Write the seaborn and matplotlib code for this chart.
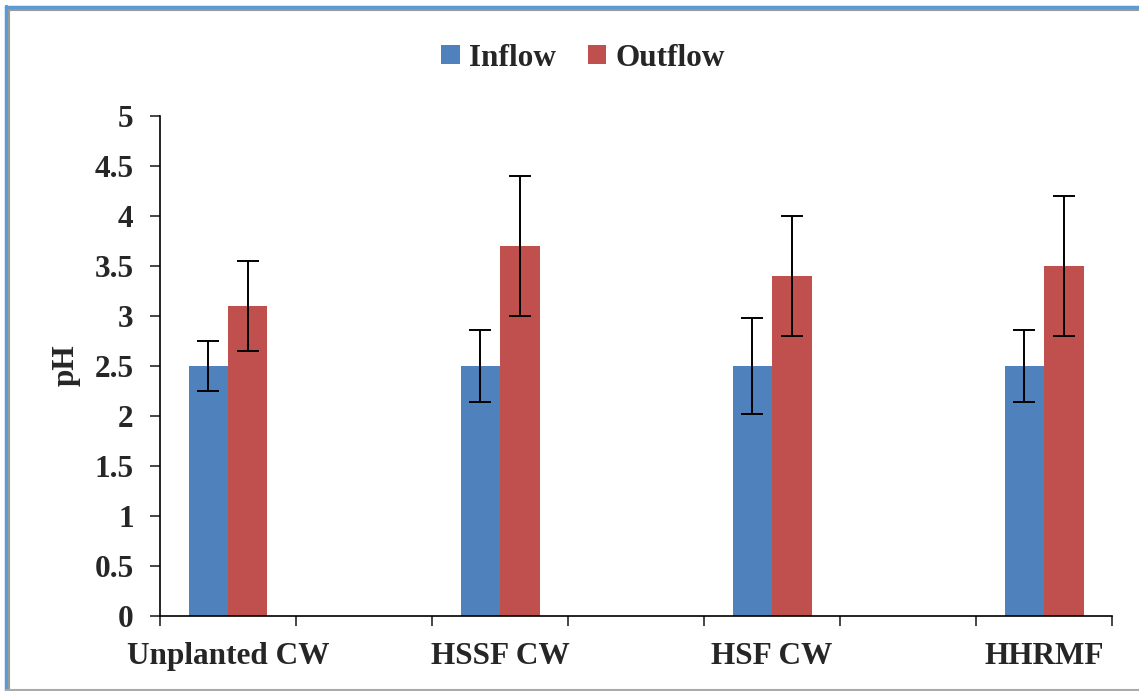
import pandas as pd
import matplotlib.pyplot as plt
import seaborn as sns
from matplotlib.lines import Line2D
from matplotlib.patches import Patch

# chart data
sites = ['Unplanted CW', 'HSSF CW', 'HSF CW', 'HHRMF']
inflow = [2.5, 2.5, 2.5, 2.5]
outflow = [3.1, 3.7, 3.4, 3.5]
inflow_err = [0.25, 0.36, 0.48, 0.36]
outflow_err = [0.45, 0.70, 0.60, 0.70]
series = ['Inflow', 'Outflow']
colors = ['#4F81BD', '#C0504D']

# the original chart has empty categories between the labelled ones
order = []
for i, s in enumerate(sites):
    order.append(s)
    if i < len(sites) - 1:
        order.append(' ' * (i + 1))

df = pd.DataFrame({
    'site': sites * 2,
    'flow': ['Inflow'] * 4 + ['Outflow'] * 4,
    'pH': inflow + outflow,
    'err': inflow_err + outflow_err,
})

sns.set_style('white')
plt.rcParams['font.family'] = ['Liberation Serif', 'DejaVu Serif']
plt.rcParams['font.weight'] = 'bold'

fig = plt.figure(figsize=(11.39, 6.91), dpi=100)
ax = fig.add_axes([0.1405, 0.109, 0.836, 0.7236])

sns.barplot(data=df, x='site', y='pH', hue='flow', order=order,
            hue_order=series, palette=colors, width=0.58, errorbar=None,
            saturation=1, ax=ax, legend=False, linewidth=0)

# error bars at bar centers
for k, name in enumerate(series):
    sub = df[df['flow'] == name]
    xs = [order.index(s) + (k - 0.5) * 0.29 for s in sub['site']]
    ax.errorbar(xs, sub['pH'], yerr=sub['err'], fmt='none', ecolor='black',
                elinewidth=1.4, capsize=8, capthick=1.4)

ax.set_ylim(0, 5)
ax.set_xlim(-0.5, len(order) - 0.5)
ax.set_yticks([0, 0.5, 1, 1.5, 2, 2.5, 3, 3.5, 4, 4.5, 5])
ax.set_yticklabels(['0', '0.5', '1', '1.5', '2', '2.5', '3', '3.5', '4', '4.5', '5'])
ax.set_xticks([order.index(s) for s in sites])
ax.set_xticklabels(sites)
ax.set_xticks([i - 0.5 for i in range(len(order) + 1)], minor=True)
ax.tick_params(axis='x', which='major', length=0, pad=19, labelsize=22.5)
ax.tick_params(axis='x', which='minor', length=7, width=1.2, direction='out', bottom=True)
ax.tick_params(axis='y', length=7, width=1.2, direction='out', left=True, pad=12, labelsize=22.5)
for lab in ax.get_xticklabels() + ax.get_yticklabels():
    lab.set_fontweight('bold')

ax.set_xlabel('')
ax.set_ylabel('pH', fontsize=22.5, fontweight='bold', labelpad=10)

sns.despine(ax=ax)
for side in ['left', 'bottom']:
    ax.spines[side].set_color('black')
    ax.spines[side].set_linewidth(1.2)

handles = [Patch(facecolor=c, edgecolor='none') for c in colors]
fig.legend(handles, series, loc='center', bbox_to_anchor=(0.512, 0.916), ncol=2,
           frameon=False, prop={'size': 22.5, 'weight': 'bold'}, handlelength=0.6,
           handleheight=0.6, handletextpad=0.3, columnspacing=1.0)

# outer chart border like the source
fig.add_artist(Line2D([0.005, 1.0], [0.990, 0.990], color='#5B9BD5', lw=2.5, transform=fig.transFigure))
fig.add_artist(Line2D([0.006, 1.0], [0.986, 0.986], color='#999999', lw=1.5, transform=fig.transFigure))
fig.add_artist(Line2D([0.0055, 0.0055], [0.0, 0.991], color='#5B9BD5', lw=2.5, transform=fig.transFigure))
fig.add_artist(Line2D([0.008, 0.008], [0.0, 0.986], color='#999999', lw=1.5, transform=fig.transFigure))
fig.add_artist(Line2D([0.005, 1.0], [0.002, 0.002], color='#AAAAAA', lw=1.5, transform=fig.transFigure))

fig.savefig('out.png', dpi=100)
